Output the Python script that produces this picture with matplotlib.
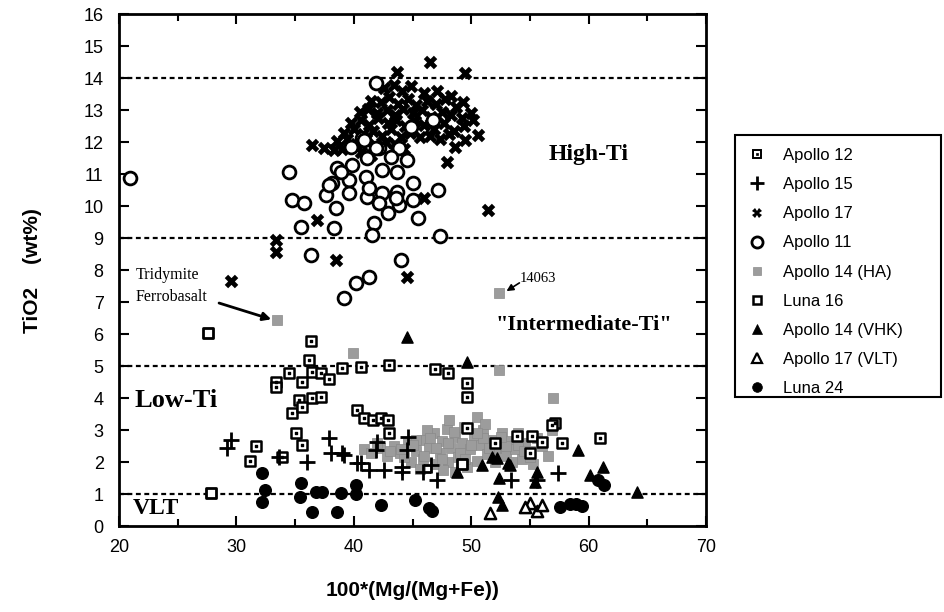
import numpy as np
import matplotlib
matplotlib.use("Agg")
import matplotlib.pyplot as plt
from matplotlib.lines import Line2D
from matplotlib.patches import Rectangle
from matplotlib.legend_handler import HandlerTuple

# ---- data ----
apollo17_x = [46.45, 43.72, 49.44, 50.12, 50.55, 49.44, 48.58, 47.9, 45.6, 36.47, 37.49, 51.4, 46.0, 36.9, 38.5,
              44.49, 29.56, 33.4, 33.4,
              42.6, 43.4, 44.1, 44.9, 46.0, 47.1, 48.3,
              41.5, 42.3, 43.0, 43.8, 44.6, 45.3, 46.2, 47.0, 47.8, 48.7, 49.3,
              40.5, 41.2, 42.0, 42.8, 43.5, 44.2, 45.0, 45.8, 46.6, 47.5, 48.3, 49.2, 50.0,
              39.8, 40.6, 41.3, 42.1, 42.9, 43.6, 44.4, 45.2, 46.0, 46.8, 47.7, 48.5, 49.4,
              39.2, 40.0, 40.8, 41.6, 42.4, 43.2, 44.0, 44.8, 46.5, 47.3, 48.1,
              38.6, 39.4, 40.2, 41.0, 41.8, 42.7, 43.5, 44.3,
              38.3, 39.0, 40.6, 41.5]
apollo17_y = [14.5, 14.19, 14.16, 12.69, 12.22, 12.06, 11.84, 11.38, 12.16, 11.9, 11.81, 9.88, 10.25, 9.56, 8.31,
              7.78, 7.66, 8.94, 8.56,
              13.7, 13.8, 13.6, 13.75, 13.55, 13.6, 13.45,
              13.3, 13.25, 13.4, 13.2, 13.35, 13.15, 13.3, 13.2, 13.35, 13.1, 13.25,
              12.95, 13.05, 12.9, 13.0, 12.85, 13.05, 12.9, 13.0, 12.8, 12.95, 12.85, 12.75, 12.9,
              12.6, 12.7, 12.55, 12.75, 12.6, 12.7, 12.5, 12.65, 12.55, 12.4, 12.6, 12.35, 12.5,
              12.3, 12.4, 12.25, 12.35, 12.2, 12.4, 12.15, 12.3, 12.2, 12.1, 12.25,
              12.05, 12.1, 11.95, 12.1, 11.9, 12.0, 11.95, 11.8,
              11.75, 11.8, 11.7, 11.6]

apollo11_x = [20.94, 41.93, 40.73, 39.8, 42.18, 43.89, 41.16, 43.2, 38.6, 39.88, 46.71, 44.49, 38.17, 39.62, 39.62,
              38.52, 41.16, 42.44, 43.72, 45.0, 43.89, 42.87, 45.43, 45.0, 47.13, 41.76, 41.59, 47.3, 38.34, 44.06,
              41.33, 40.22, 39.2, 34.76, 35.78, 37.66, 35.53, 36.38, 34.5, 38.94, 41.07, 42.44, 43.72, 37.92, 41.33,
              42.18, 43.63, 40.9, 41.93, 44.9]
apollo11_y = [10.88, 13.84, 12.13, 11.84, 11.81, 11.81, 11.5, 11.53, 11.19, 11.28, 12.69, 11.44, 10.72, 10.81, 10.41,
              9.94, 10.28, 10.41, 10.44, 10.72, 10.03, 9.78, 9.63, 10.19, 10.5, 9.47, 9.09, 9.06, 9.31, 8.31,
              7.78, 7.59, 7.13, 10.19, 10.09, 10.34, 9.34, 8.47, 11.06, 11.06, 10.91, 11.13, 11.06, 10.66, 10.56,
              10.09, 10.25, 12.06, 11.81, 12.47]

apollo12_x = [36.38, 36.2, 36.47, 37.2, 37.9, 34.5, 33.4, 33.4, 35.6, 39.0, 35.36, 36.47, 37.2, 34.76, 35.6,
              35.1, 35.6, 31.7, 31.2, 33.9, 40.6, 43.0, 46.9, 48.0, 49.6, 49.6, 40.3, 40.9, 41.6, 42.35,
              42.9, 43.0, 49.6, 52.0, 53.9, 55.2, 55.0, 56.0, 57.1, 57.7, 61.0, 56.9]
apollo12_y = [5.78, 5.19, 4.81, 4.78, 4.59, 4.78, 4.5, 4.34, 4.5, 4.94, 3.94, 4.0, 4.03, 3.53, 3.72,
              2.91, 2.53, 2.5, 2.03, 2.16, 4.97, 5.03, 4.91, 4.78, 4.47, 4.03, 3.63, 3.38, 3.31, 3.38,
              3.31, 2.91, 3.06, 2.59, 2.81, 2.81, 2.28, 2.63, 3.22, 2.59, 2.75, 3.16]

luna16_x = [27.6, 27.85, 49.2]
luna16_y = [6.05, 1.03, 1.95]

apollo15_x = [29.2, 29.5, 37.9, 38.1, 39.0, 36.0, 33.65, 40.3, 40.6, 41.3, 42.6, 42.0, 41.9, 44.6, 44.5,
              44.1, 44.1, 45.85, 47.1, 46.6, 57.4, 53.4, 55.6, 39.2]
apollo15_y = [2.45, 2.7, 2.75, 2.28, 2.28, 2.0, 2.16, 1.97, 1.97, 1.75, 1.75, 2.63, 2.38, 2.78, 2.38,
              1.84, 1.69, 1.69, 1.44, 1.91, 1.66, 1.44, 1.44, 2.22]

apollo14ha_x = [40.9, 41.5, 42.2, 42.8, 43.4, 43.9, 44.6, 44.9, 45.3, 45.8, 45.9, 46.4, 46.8, 46.9, 47.3,
                47.5, 47.9, 48.0, 48.3, 48.6, 48.9, 49.2, 49.4, 49.6, 49.9, 50.2, 50.5, 50.8, 51.0, 51.3,
                51.7, 52.0, 52.3, 52.6, 53.0, 53.3, 53.7, 54.0, 54.3, 54.6, 55.0, 55.3, 55.6, 56.0, 56.5,
                56.9, 48.1, 50.5, 51.2, 44.3, 45.6, 47.6, 46.2, 48.6, 45.3,
                42.0, 43.1, 44.0, 45.0, 46.0, 47.0, 48.0, 49.0, 50.0, 51.0, 52.0, 53.0, 54.0, 55.0,
                46.5, 47.5, 48.5, 49.5, 50.5, 51.5, 52.5, 53.5, 54.5,
                33.5, 52.4, 39.9, 52.4, 57.0]
apollo14ha_y = [2.4, 2.3, 2.45, 2.2, 2.5, 2.3, 2.6, 2.0, 2.35, 2.7, 2.1, 2.45, 2.9, 1.95, 2.3,
                2.65, 3.05, 2.0, 2.45, 2.8, 2.15, 2.6, 3.1, 1.85, 2.4, 2.8, 2.05, 2.55, 3.0, 2.25,
                2.7, 2.0, 2.45, 2.9, 2.2, 2.65, 2.4, 2.9, 2.1, 2.6, 2.35, 1.95, 2.75, 2.5, 2.2,
                3.0, 3.31, 3.41, 3.2, 2.15, 1.8, 1.75, 3.0, 1.7, 2.7,
                2.6, 2.35, 2.4, 2.55, 2.2, 2.45, 2.6, 2.3, 2.55, 2.75, 2.3, 2.5, 2.55, 2.15,
                2.75, 2.1, 2.95, 2.1, 2.9, 2.45, 2.8, 2.0, 2.35,
                6.44, 7.3, 5.4, 4.88, 4.0]

vhk_x = [44.5, 49.6, 51.8, 48.75, 50.9, 53.1, 52.2, 53.3, 52.4, 52.3, 52.6, 55.6, 55.4, 59.1, 61.2, 60.1, 64.1]
vhk_y = [5.9, 5.12, 2.16, 1.69, 1.9, 1.97, 2.13, 1.9, 1.5, 0.91, 0.66, 1.69, 1.38, 2.38, 1.84, 1.6, 1.06]

vlt_x = [51.6, 55.0, 55.6, 54.6, 56.0]
vlt_y = [0.42, 0.72, 0.47, 0.6, 0.66]

luna24_x = [32.2, 32.4, 32.2, 35.5, 35.4, 36.8, 37.3, 36.4, 38.6, 38.9, 40.2, 40.2, 42.35, 45.2, 46.4,
            46.7, 57.6, 58.4, 58.9, 59.4, 60.8, 61.3]
luna24_y = [1.66, 1.13, 0.75, 1.34, 0.91, 1.06, 1.06, 0.44, 0.44, 1.03, 1.28, 1.0, 0.66, 0.81, 0.58,
            0.48, 0.6, 0.7, 0.7, 0.62, 1.44, 1.3]

boundaries = [14, 9, 5, 1]

# ---- figure ----
fig = plt.figure(figsize=(9.44, 6.12), dpi=100)
ax = fig.add_axes([0.126, 0.14, 0.622, 0.837])

for b in boundaries:
    ax.axhline(b, color='black', lw=1.6, ls=(0, (2.2, 1.6)), zorder=1)

gray = '#9c9c9c'
ax.scatter(apollo14ha_x, apollo14ha_y, marker='s', s=55, color=gray, edgecolors='#8a8a8a', linewidths=0.5, zorder=2)
ax.scatter(apollo17_x, apollo17_y, marker='X', s=95, color='black', linewidths=0, zorder=3)
ax.scatter(apollo11_x, apollo11_y, marker='o', s=85, facecolors='white', edgecolors='black', linewidths=2.0, zorder=4)
ax.scatter(apollo12_x, apollo12_y, marker='s', s=50, facecolors='white', edgecolors='black', linewidths=1.8, zorder=5)
ax.scatter(apollo12_x, apollo12_y, marker='s', s=4, color='black', zorder=6)
ax.scatter(luna16_x, luna16_y, marker='s', s=50, facecolors='white', edgecolors='black', linewidths=2.0, zorder=5)
ax.scatter(apollo15_x, apollo15_y, marker='+', s=140, color='black', linewidths=2.0, zorder=5)
ax.scatter(vhk_x, vhk_y, marker='^', s=65, color='black', zorder=5)
ax.scatter(vlt_x, vlt_y, marker='^', s=65, facecolors='white', edgecolors='black', linewidths=1.8, zorder=5)
ax.scatter(luna24_x, luna24_y, marker='o', s=70, color='black', zorder=5)

ax.set_xlim(20, 70)
ax.set_ylim(0, 16)
ax.set_xticks(range(20, 71, 10))
ax.set_xticks(range(25, 70, 10), minor=True)
ax.set_yticks(range(0, 17))
ax.tick_params(which='both', direction='in', top=True, right=True, width=1.5)
ax.tick_params(which='major', length=7, labelsize=13)
ax.tick_params(axis='x', which='major', pad=9)
ax.tick_params(axis='y', which='major', pad=11)
ax.tick_params(which='minor', length=5)
for lab in ax.get_xticklabels() + ax.get_yticklabels():
    lab.set_family('Liberation Sans')
for sp in ax.spines.values():
    sp.set_linewidth(2)

ax.set_xlabel('100*(Mg/(Mg+Fe))', fontsize=15, fontweight='bold', family='Liberation Sans', labelpad=18)
ax.set_ylabel('TiO2    (wt%)', fontsize=15, fontweight='bold', family='Liberation Sans', labelpad=30)

serif = 'Liberation Serif'
ax.text(60.0, 11.6, 'High-Ti', fontsize=17, fontweight='bold', family=serif, ha='center', va='center')
ax.text(59.6, 6.28, '"Intermediate-Ti"', fontsize=16, fontweight='bold', family=serif, ha='center', va='center')
ax.text(21.3, 3.94, 'Low-Ti', fontsize=19, fontweight='bold', family=serif, ha='left', va='center')
ax.text(21.2, 0.56, 'VLT', fontsize=17, fontweight='bold', family=serif, ha='left', va='center')
ax.text(21.45, 7.84, 'Tridymite', fontsize=11.5, family=serif, ha='left', va='center')
ax.text(21.45, 7.16, 'Ferrobasalt', fontsize=11.5, family=serif, ha='left', va='center')
ax.text(54.1, 7.75, '14063', fontsize=10.5, family=serif, ha='left', va='center')
ax.annotate('', xy=(33.2, 6.44), xytext=(28.3, 7.0),
            arrowprops=dict(arrowstyle='-|>', color='black', lw=2, mutation_scale=12))
ax.annotate('', xy=(52.8, 7.3), xytext=(54.3, 7.65),
            arrowprops=dict(arrowstyle='-|>', color='black', lw=1.2, mutation_scale=10))

# ---- legend ----
def mk(marker, size, fc, ec, mew):
    return Line2D([], [], ls='none', marker=marker, markersize=size, markerfacecolor=fc,
                  markeredgecolor=ec, markeredgewidth=mew)

handles = [
    (mk('s', 6, 'white', 'black', 1.4), mk('s', 1.5, 'black', 'black', 0.5)),
    mk('+', 10, 'black', 'black', 2.0),
    mk('X', 7, 'black', 'black', 0),
    mk('o', 8, 'white', 'black', 2.0),
    mk('s', 6, gray, '#8c8c8c', 0.5),
    mk('s', 6, 'white', 'black', 1.8),
    mk('^', 7, 'black', 'black', 0.5),
    mk('^', 7, 'white', 'black', 1.6),
    mk('o', 7, 'black', 'black', 0.5),
]
labels = ['Apollo 12', 'Apollo 15', 'Apollo 17', 'Apollo 11', 'Apollo 14 (HA)', 'Luna 16',
          'Apollo 14 (VHK)', 'Apollo 17 (VLT)', 'Luna 24']
fig.legend(handles, labels, loc='upper left', bbox_to_anchor=(745 / 944, 1 - 148 / 612),
           handler_map={tuple: HandlerTuple(ndivide=1)},
           prop={'family': 'Liberation Sans', 'size': 12}, frameon=False,
           labelspacing=0.85, handletextpad=0.9, borderpad=0,
           handlelength=1.4, borderaxespad=0)
fig.patches.append(Rectangle((735 / 944, 1 - 397 / 612), 206 / 944, 262 / 612, transform=fig.transFigure,
                             fill=False, edgecolor='black', lw=1.5))

fig.savefig('out.png', dpi=100)
